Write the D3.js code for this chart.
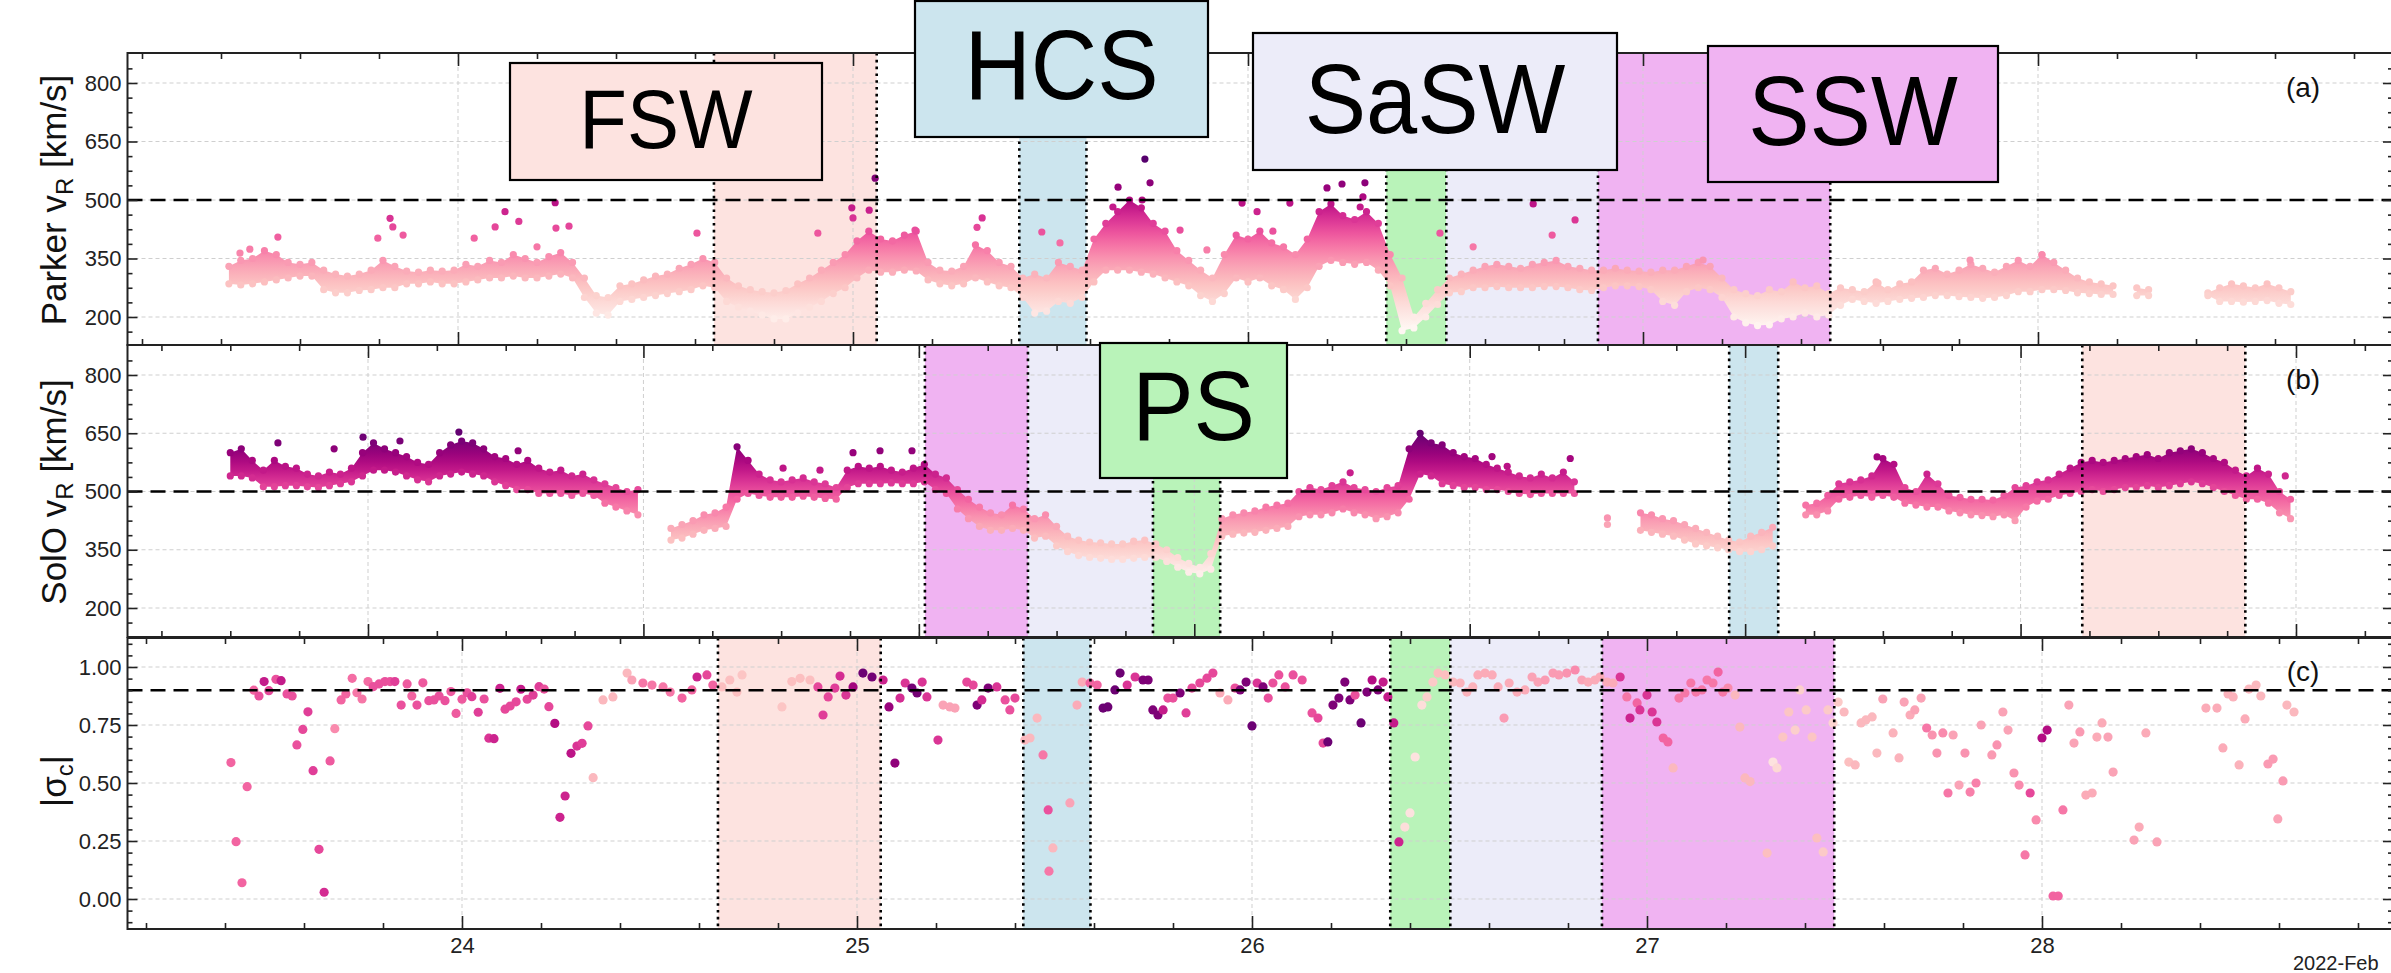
<!DOCTYPE html>
<html><head><meta charset="utf-8">
<script src="https://cdn.jsdelivr.net/npm/d3@7"></script>
<style>
html,body{margin:0;padding:0;background:#fff;}
svg{display:block;font-family:"Liberation Sans",Arial,Helvetica,sans-serif;}
</style>
</head><body>
<svg id="chart" width="2391" height="973"></svg>
<script>
// ---------------- DATA ----------------
// Parker Solar Probe radial speed: binned envelope (upper/lower edge of the point cloud), km/s
const parkerT0 = 23.42, parkerDt = 0.03;   // day of Feb 2022, bin cadence (days)
const parkerHi = [
330,345,350,370,360,340,335,340,320,310,
305,310,320,345,330,318,315,320,318,320,
335,330,345,340,360,350,340,355,365,340,
300,255,250,280,285,295,305,310,325,335,
350,340,300,280,270,265,262,268,285,300,
320,340,360,395,420,400,395,410,420,340,
320,318,330,385,370,340,330,300,310,300,
340,330,320,400,440,470,500,480,440,420,
370,345,320,300,360,410,400,420,390,380,
360,400,470,490,460,450,470,440,360,300,
200,235,270,300,310,320,330,335,330,325,
335,340,345,330,325,320,320,325,320,318,
315,320,320,330,340,330,300,270,260,255,
270,265,290,275,280,260,275,270,265,290,
270,285,290,320,325,310,320,335,325,315,
330,345,330,360,340,320,300,290,285,280,
null,275,270,null,null,null,null,262,275,285,
280,275,285,275,265];
const parkerLo = [
285,282,285,290,295,300,305,305,270,262,
262,268,270,275,275,285,285,290,285,285,
290,295,300,300,305,300,300,305,310,300,
250,210,205,240,245,250,255,260,265,270,
280,275,240,225,215,205,195,195,210,225,
240,260,275,300,320,315,315,320,318,295,
285,280,285,300,290,280,275,250,210,215,
240,235,250,290,320,320,320,315,310,300,
290,280,255,240,260,300,290,300,280,270,
245,275,330,345,340,335,340,320,280,165,
172,200,232,262,265,275,275,278,275,275,
275,278,278,275,270,268,275,280,280,278,
270,240,230,265,275,270,250,200,185,178,
180,195,200,210,200,205,230,245,240,235,
240,245,248,250,255,255,252,250,248,250,
255,265,265,270,270,268,262,260,258,258,
null,255,255,null,null,null,null,255,240,240,
238,240,242,235,232];
// isolated Parker points above the cloud (day, km/s)
const parkerOutDay = [23.448,23.473,23.544,23.797,23.828,23.835,23.861,24.041,24.094,24.119,24.154,24.200,24.246,24.248,24.281,
  24.605,24.911,24.997,25.000,25.041,25.056,25.157,25.314,25.327,25.478,25.524,25.658,25.671,25.732,25.739,25.752,
  25.828,25.896,25.985,26.023,26.063,26.106,26.200,26.238,26.284,26.291,26.296,26.486,26.570,26.722,26.770,26.828,
  27.152,27.595,27.828,28.010];
const parkerOutV = [364,374,405,402,453,431,410,402,431,470,445,380,493,428,433,
  415,415,480,454,474,556,423,430,454,418,390,482,533,500,605,544,
  423,372,492,470,420,492,531,541,482,508,544,415,380,490,410,449,
  346,287,346,359];

// Solar Orbiter radial speed: binned envelope on its own time axis (major tick = 1 unit)
const soloS0 = 0.5, soloDs = 0.04;
const soloHi = [
600,610,580,555,580,565,560,545,540,550,
545,560,600,625,610,600,590,575,570,600,
620,630,625,610,590,585,570,580,560,550,
555,540,545,530,520,510,500,505,null,null,
405,415,425,440,445,460,615,580,545,530,
525,530,535,525,520,510,555,565,560,565,
555,550,560,570,545,535,505,480,460,445,
440,465,455,430,440,410,385,375,370,368,
365,365,372,375,365,350,330,315,305,340,
430,440,445,450,460,465,470,500,510,505,
515,525,510,505,500,510,515,610,650,625,
620,600,590,585,570,560,550,540,535,545,
535,550,525,null,null,432,null,null,445,440,
430,425,415,405,395,385,375,370,385,395,
408,null,null,465,470,490,520,525,530,540,
585,570,510,500,545,520,490,485,480,480,
478,490,510,515,525,530,545,560,575,580,
575,580,585,590,595,585,600,605,610,600,
585,575,555,540,560,545,500,480];
const soloLo = [
540,540,535,512,512,515,515,512,510,515,
520,525,540,555,555,550,540,530,525,540,
545,550,545,540,525,515,505,505,495,495,
495,490,495,490,470,460,450,440,null,null,
375,380,390,400,405,410,480,495,490,485,
485,485,488,485,482,480,510,520,520,520,
522,520,520,525,505,495,455,430,410,400,
400,405,400,380,385,360,345,335,330,328,
325,325,328,330,330,320,305,292,288,300,
385,390,393,395,400,405,410,435,440,440,
445,455,445,440,430,435,445,480,545,540,
520,515,510,510,505,505,500,495,492,495,
495,495,495,null,null,415,null,null,400,395,
390,385,375,365,360,355,350,345,345,350,
360,null,null,440,440,450,480,485,490,485,
490,485,470,465,460,460,450,445,440,438,
435,440,425,460,475,480,490,495,500,505,
500,505,510,510,515,510,515,520,525,520,
510,500,490,480,480,470,445,430];
const soloOutS = [0.673,0.877,0.982,1.116,1.330,1.545,2.507,2.641,2.761,2.859,2.975,4.566,5.081,5.136,5.365,6.479,7.961];
const soloOutV = [625,610,640,630,653,605,560,555,600,605,605,548,590,565,585,589,540];

// |sigma_c| samples: [day, |sigma_c|, colour speed km/s]
const sigmaSamples = [
[23.415,0.588,400],[23.428,0.247,400],[23.443,0.070,400],[23.456,0.484,400],[23.473,0.900,400],
[23.486,0.875,420],[23.499,0.937,480],[23.511,0.898,430],[23.529,0.947,420],[23.542,0.941,480],
[23.557,0.884,420],[23.570,0.875,420],[23.582,0.664,420],[23.597,0.731,430],[23.610,0.807,440],
[23.623,0.553,440],[23.638,0.214,430],[23.651,0.029,460],[23.666,0.595,410],[23.678,0.734,360],
[23.694,0.858,400],[23.706,0.884,400],[23.722,0.951,390],[23.734,0.889,380],[23.747,0.862,380],
[23.762,0.937,390],[23.775,0.915,420],[23.790,0.927,420],[23.805,0.937,420],[23.818,0.937,420],
[23.830,0.937,440],[23.846,0.836,420],[23.861,0.927,410],[23.873,0.875,400],[23.886,0.836,420],
[23.901,0.932,410],[23.916,0.855,420],[23.929,0.858,420],[23.942,0.875,420],[23.957,0.855,420],
[23.972,0.894,410],[23.985,0.800,410],[24.000,0.861,410],[24.013,0.889,420],[24.025,0.872,440],
[24.041,0.805,440],[24.056,0.862,420],[24.068,0.693,450],[24.081,0.691,470],[24.096,0.908,470],
[24.109,0.818,430],[24.122,0.832,430],[24.137,0.850,430],[24.149,0.904,480],[24.165,0.861,430],
[24.180,0.879,440],[24.195,0.915,440],[24.208,0.905,420],[24.220,0.829,430],[24.235,0.757,500],
[24.248,0.352,470],[24.261,0.444,470],[24.276,0.628,490],[24.291,0.659,450],[24.304,0.671,440],
[24.319,0.746,430],[24.332,0.523,300],
[24.357,0.858,300],[24.382,0.871,300],[24.418,0.974,300],[24.430,0.944,330],[24.458,0.931,380],
[24.481,0.922,380],[24.509,0.914,380],[24.527,0.892,380],[24.557,0.866,400],[24.582,0.901,400],
[24.595,0.957,470],[24.620,0.966,430],[24.635,0.922,400],[24.658,0.914,290],[24.678,0.944,290],
[24.696,0.892,290],[24.709,0.966,280],[24.810,0.828,280],[24.835,0.937,290],[24.856,0.951,290],
[24.881,0.944,290],[24.901,0.914,430],[24.914,0.793,440],[24.927,0.871,430],[24.944,0.909,440],
[24.957,0.961,460],[24.972,0.879,450],[24.990,0.914,520],[25.015,0.974,580],[25.038,0.957,570],
[25.066,0.944,470],[25.081,0.828,530],[25.096,0.586,540],[25.109,0.866,460],[25.122,0.931,450],
[25.139,0.909,570],[25.152,0.888,570],[25.165,0.935,450],[25.177,0.871,450],[25.205,0.685,450],
[25.218,0.836,330],[25.235,0.828,330],[25.248,0.823,330],[25.278,0.935,430],[25.294,0.922,430],
[25.304,0.836,560],[25.316,0.858,460],[25.332,0.909,560],[25.354,0.914,450],[25.375,0.858,420],
[25.387,0.815,420],[25.400,0.866,430],[25.425,0.685,300],[25.438,0.694,300],[25.456,0.780,300],
[25.471,0.621,380],[25.484,0.384,420],[25.486,0.120,380],[25.496,0.220,300],[25.539,0.414,330],
[25.557,0.836,320],[25.570,0.935,320],[25.590,0.931,400],[25.608,0.922,400],[25.623,0.823,580],
[25.635,0.828,580],[25.653,0.901,580],
[25.666,0.974,580],[25.684,0.922,450],[25.704,0.957,450],[25.724,0.944,560],[25.737,0.944,560],
[25.749,0.815,560],[25.762,0.793,560],[25.775,0.815,480],[25.787,0.866,420],[25.800,0.866,420],
[25.818,0.888,560],[25.833,0.802,440],[25.848,0.909,430],[25.868,0.931,430],[25.886,0.952,430],
[25.901,0.974,430],[25.919,0.888,320],[25.939,0.858,320],[25.957,0.909,420],[25.970,0.901,560],
[25.985,0.935,560],[26.000,0.746,580],[26.013,0.931,450],[26.028,0.914,560],[26.041,0.866,420],
[26.053,0.931,420],[26.068,0.966,420],[26.084,0.914,420],[26.104,0.966,420],[26.127,0.944,420],
[26.152,0.802,420],[26.167,0.780,430],[26.180,0.672,430],[26.192,0.677,580],[26.205,0.836,560],
[26.220,0.866,560],[26.235,0.935,560],[26.248,0.858,560],[26.261,0.879,420],[26.276,0.759,580],
[26.291,0.892,560],[26.304,0.944,500],[26.319,0.901,560],[26.332,0.935,480],[26.344,0.871,480],
[26.359,0.759,480],[26.372,0.246,470],[26.387,0.310,230],[26.400,0.371,220],[26.413,0.612,220],
[26.430,0.836,230],[26.443,0.871,260],[26.458,0.935,270],[26.471,0.974,290],[26.489,0.966,290],
[26.509,0.935,300],[26.527,0.931,310],[26.544,0.892,310],[26.559,0.914,310],[26.572,0.966,320],
[26.590,0.974,320],[26.608,0.966,320],[26.623,0.914,320],[26.638,0.780,340],[26.651,0.931,320],
[26.671,0.892,320],[26.691,0.901,320],[26.709,0.957,330],[26.724,0.935,330],[26.742,0.944,340],
[26.762,0.974,340],[26.777,0.966,340],[26.797,0.974,350],[26.818,0.987,360],[26.835,0.944,330],
[26.851,0.935,320],[26.868,0.944,320],[26.881,0.957,320],[26.899,0.935,320],[26.914,0.931,320],
[26.932,0.957,450],[26.949,0.871,380],[26.957,0.780,470],[26.975,0.845,400],
[26.982,0.815,450],[27.000,0.879,450],[27.013,0.806,450],[27.025,0.763,450],[27.041,0.694,400],
[27.053,0.677,400],[27.066,0.565,300],[27.081,0.866,380],[27.096,0.888,380],[27.111,0.931,380],
[27.124,0.892,380],[27.139,0.901,380],[27.152,0.944,380],[27.167,0.931,380],[27.180,0.978,400],
[27.192,0.892,380],[27.205,0.909,360],[27.223,0.879,300],[27.235,0.741,300],[27.248,0.522,300],
[27.261,0.506,300],[27.304,0.198,290],[27.319,0.590,220],[27.329,0.565,240],[27.344,0.698,280],
[27.359,0.806,280],[27.375,0.728,260],[27.387,0.901,260],[27.403,0.815,270],[27.418,0.698,280],
[27.430,0.263,290],[27.446,0.203,270],[27.458,0.815,270],[27.471,0.759,250],[27.484,0.849,270],
[27.499,0.806,300],[27.511,0.590,290],[27.527,0.578,300],[27.542,0.759,300],[27.554,0.772,300],
[27.570,0.785,300],[27.582,0.629,300],[27.597,0.862,330],[27.623,0.716,310],[27.638,0.608,310],
[27.651,0.849,330],[27.666,0.793,320],[27.678,0.815,330],[27.694,0.866,330],[27.708,0.737,380],
[27.722,0.707,350],[27.734,0.629,350],[27.749,0.716,360],[27.762,0.457,380],[27.775,0.707,330],
[27.790,0.491,330],[27.805,0.629,350],[27.818,0.461,370],[27.833,0.500,370],[27.846,0.750,330],
[27.873,0.621,340],[27.886,0.664,350],[27.901,0.806,330],[27.914,0.728,330],[27.929,0.543,350],
[27.942,0.491,360],[27.957,0.190,380],[27.970,0.457,430],[27.985,0.341,360],[28.000,0.694,500],
[28.013,0.728,500],[28.028,0.013,400],[28.041,0.013,400],[28.053,0.384,380],[28.068,0.836,330],
[28.081,0.672,330],[28.096,0.720,340],[28.111,0.448,320],[28.127,0.457,320],[28.139,0.698,320],
[28.152,0.759,320],[28.167,0.698,330],[28.180,0.547,330],[28.233,0.254,330],[28.246,0.310,320],
[28.263,0.716,320],[28.291,0.246,330],
[28.415,0.823,320],[28.443,0.823,320],[28.458,0.651,320],[28.471,0.884,310],[28.484,0.871,310],
[28.499,0.578,310],[28.514,0.776,320],[28.524,0.905,300],[28.542,0.922,300],[28.554,0.875,300],
[28.572,0.582,340],[28.585,0.603,340],[28.597,0.345,330],[28.610,0.509,340],[28.620,0.836,300],
[28.638,0.806,300]];

// stream-type intervals
const regionNames = ["FSW","HCS","PS","SaSW","SSW"];
const regionsParkerDays = [[24.648,25.060],[25.421,25.591],[26.350,26.502],[26.502,26.886],[26.886,27.474]];
const regionsSolo = [[7.224,7.816],[5.942,6.120],[3.850,4.094],[3.396,3.850],[3.022,3.396]];

// tick values
const dayTicks = [24,25,26,27,28];
const speedTicks = [200,350,500,650,800];
const sigmaTicks = [0,0.25,0.5,0.75,1.0];
const soloMajorTicks = [1,2,3,4,5,6,7,8];
const speedThreshold = 500, sigmaThreshold = 0.9;

// ---------------- LAYOUT / STYLE ----------------
const regionFill = {FSW:"#fde3e0", HCS:"#cce5ee", PS:"#b9f3b9", SaSW:"#ececf9", SSW:"#f0b3f2"};
const L = 127.5, R = 2393;
const P = {a:{top:53,bot:345}, b:{top:345,bot:637}, c:{top:638,bot:929}};
const svg = d3.select("#chart");
const defs = svg.append("defs");

const xA = d3.scaleLinear().domain([24,28]).range([458,2038]);
const xC = d3.scaleLinear().domain([24,28]).range([462,2042]);
const xB = d3.scaleLinear().domain([1,8]).range([368,2296]);
const yA = d3.scaleLinear().domain([200,800]).range([317,83]);
const yB = d3.scaleLinear().domain([200,800]).range([608,375]);
const yC = d3.scaleLinear().domain([0,1]).range([899,667]);

const cl = t => Math.max(0, Math.min(1, t));
const colA = v => d3.interpolateRdPu(cl((v-170)/450));
const colB = v => d3.interpolateRdPu(cl((v-270)/410));

function clipFor(id, p){
  defs.append("clipPath").attr("id", id).append("rect")
    .attr("x", L).attr("y", p.top).attr("width", R-L).attr("height", p.bot-p.top);
}
clipFor("clipA", P.a); clipFor("clipB", P.b); clipFor("clipC", P.c);

function gradient(id, y, vmin, vmax){
  const lg = defs.append("linearGradient").attr("id", id).attr("gradientUnits","userSpaceOnUse")
    .attr("x1",0).attr("x2",0).attr("y1", y(vmin)).attr("y2", y(vmax));
  d3.range(0, 1.0001, 0.05).forEach(t => lg.append("stop").attr("offset", t).attr("stop-color", d3.interpolateRdPu(t)));
}
gradient("gradA", yA, 170, 620);
gradient("gradB", yB, 270, 680);

const gA = svg.append("g").attr("clip-path","url(#clipA)");
const gB = svg.append("g").attr("clip-path","url(#clipB)");
const gC = svg.append("g").attr("clip-path","url(#clipC)");

// shaded intervals
function shade(g, x, p, intervals){
  g.append("g").selectAll("rect").data(intervals.map((iv,i)=>({iv, name:regionNames[i]}))).join("rect")
    .attr("x", d => x(d.iv[0])).attr("width", d => x(d.iv[1]) - x(d.iv[0]))
    .attr("y", p.top).attr("height", p.bot - p.top)
    .attr("fill", d => regionFill[d.name]);
}
shade(gA, xA, P.a, regionsParkerDays);
shade(gB, xB, P.b, regionsSolo);
shade(gC, xC, P.c, regionsParkerDays);

// grids
function grid(g, x, xt, y, yt, p){
  const gg = g.append("g").attr("stroke","#cfcfcf").attr("stroke-width",1).attr("stroke-dasharray","4,3");
  gg.selectAll(".gx").data(xt).join("line").attr("x1",d=>x(d)).attr("x2",d=>x(d)).attr("y1",p.top).attr("y2",p.bot);
  gg.selectAll(".gy").data(yt).join("line").attr("x1",L).attr("x2",R).attr("y1",d=>y(d)).attr("y2",d=>y(d));
}
grid(gA, xA, dayTicks, yA, speedTicks, P.a);
grid(gB, xB, soloMajorTicks, yB, speedTicks, P.b);
grid(gC, xC, dayTicks, yC, sigmaTicks, P.c);

// bands
function band(g, x, y, t0, dt, hi, lo, gradId, col){
  const bins = hi.map((h,i)=>({t: t0 + dt*i, hi: h, lo: lo[i]}));
  const area = d3.area().defined(d => d.hi != null).x(d => x(d.t)).y0(d => y(d.lo)).y1(d => y(d.hi));
  g.append("path").datum(bins).attr("d", area).attr("fill", `url(#${gradId})`);
  const pts = bins.filter(d => d.hi != null).flatMap(d => [{t:d.t, v:d.hi}, {t:d.t, v:d.lo}]);
  g.append("g").selectAll("circle").data(pts).join("circle")
    .attr("cx", d => x(d.t)).attr("cy", d => y(d.v)).attr("r", 3.6).attr("fill", d => col(d.v));
}
band(gA, xA, yA, parkerT0, parkerDt, parkerHi, parkerLo, "gradA", colA);
band(gB, xB, yB, soloS0, soloDs, soloHi, soloLo, "gradB", colB);

gA.append("g").selectAll("circle").data(parkerOutDay.map((t,i)=>({t, v:parkerOutV[i]}))).join("circle")
  .attr("cx", d => xA(d.t)).attr("cy", d => yA(d.v)).attr("r", 3.6).attr("fill", d => colA(d.v));
gB.append("g").selectAll("circle").data(soloOutS.map((s,i)=>({s, v:soloOutV[i]}))).join("circle")
  .attr("cx", d => xB(d.s)).attr("cy", d => yB(d.v)).attr("r", 3.6).attr("fill", d => colB(d.v));

gC.append("g").selectAll("circle").data(sigmaSamples).join("circle")
  .attr("cx", d => xC(d[0])).attr("cy", d => yC(d[1])).attr("r", 4.6).attr("fill", d => colA(d[2]));

// thresholds
function hline(g, y, v){
  g.append("line").attr("x1",L).attr("x2",R).attr("y1",y(v)).attr("y2",y(v))
    .attr("stroke","#000").attr("stroke-width",2.6).attr("stroke-dasharray","15,8");
}
hline(gA, yA, speedThreshold); hline(gB, yB, speedThreshold); hline(gC, yC, sigmaThreshold);

// dotted interval edges
function edges(g, x, p, intervals){
  const xs = Array.from(new Set(intervals.flat()));
  g.append("g").selectAll("line").data(xs).join("line")
    .attr("x1", d => x(d)).attr("x2", d => x(d)).attr("y1", p.top).attr("y2", p.bot)
    .attr("stroke","#000").attr("stroke-width",2.6).attr("stroke-dasharray","2.6,4.2");
}
edges(gA, xA, P.a, regionsParkerDays);
edges(gB, xB, P.b, regionsSolo);
edges(gC, xC, P.c, regionsParkerDays);

// axes (inward ticks on all sides)
const axG = svg.append("g");
function ticksAxis(axisFn, scale, vals, size, fmt, tx, ty, pad){
  const a = axisFn(scale).tickValues(vals).tickSizeInner(-size).tickSizeOuter(0).tickPadding(pad||6)
    .tickFormat(fmt || (() => ""));
  const g = axG.append("g").attr("transform", `translate(${tx},${ty})`).call(a);
  g.select(".domain").remove();
  g.selectAll(".tick line").attr("stroke","#222").attr("stroke-width",1.6);
  g.selectAll("text").attr("fill","#222").attr("font-size",22).attr("font-family",'"Liberation Sans",Arial,sans-serif');
  return g;
}
function inRange(vals, scale, lo, hi){ return vals.filter(v => { const p = scale(v); return p > lo+1 && p < hi-1; }); }
function panelAxes(p, x, xMaj, xMin, y, yMaj, yMin, yFmt, xFmt){
  ticksAxis(d3.axisTop, x, xMaj, 13, null, 0, p.top);
  ticksAxis(d3.axisTop, x, xMin, 6, null, 0, p.top);
  ticksAxis(d3.axisBottom, x, xMaj, 13, xFmt, 0, p.bot, 8);
  ticksAxis(d3.axisBottom, x, xMin, 6, null, 0, p.bot);
  ticksAxis(d3.axisLeft, y, yMaj, 10, yFmt, L, 0, 6);
  ticksAxis(d3.axisLeft, y, yMin, 5, null, L, 0);
  ticksAxis(d3.axisRight, y, yMaj, 10, null, R, 0);
  ticksAxis(d3.axisRight, y, yMin, 5, null, R, 0);
  axG.append("rect").attr("x",L).attr("y",p.top).attr("width",R-L).attr("height",p.bot-p.top)
    .attr("fill","none").attr("stroke","#222").attr("stroke-width",2);
}
const dayMinor = inRange(d3.range(23, 29.01, 0.2).map(v=>+v.toFixed(2)).filter(v => Math.abs(v-Math.round(v))>1e-6), xA, L, R);
const soloMinor = inRange(d3.range(0, 9.01, 0.25).filter(v => Math.abs(v-Math.round(v))>1e-6), xB, L, R);
const speedMinor = d3.range(125, 900, 37.5).filter(v => !speedTicks.includes(v));
const sigmaMinor = d3.range(-0.15, 1.2, 0.05).map(v=>+v.toFixed(2)).filter(v => !sigmaTicks.includes(v));

panelAxes(P.a, xA, dayTicks, dayMinor, yA, speedTicks, inRange(speedMinor, yA, P.a.top, P.a.bot), d3.format("d"), null);
panelAxes(P.b, xB, soloMajorTicks, soloMinor, yB, speedTicks, inRange(speedMinor, yB, P.b.top, P.b.bot), d3.format("d"), null);
panelAxes(P.c, xC, dayTicks, inRange(dayMinor, xC, L, R), yC, sigmaTicks, inRange(sigmaMinor, yC, P.c.top, P.c.bot), d3.format(".2f"), d3.format("d"));

// axis titles
function yTitle(cy, parts){
  const t = svg.append("text").attr("transform", `translate(66,${cy}) rotate(-90)`)
    .attr("text-anchor","middle").attr("font-size",35).attr("fill","#111");
  parts.forEach(pt => {
    const s = t.append("tspan").text(pt.text);
    if (pt.sub) s.attr("font-size",24).attr("dy",7);
    if (pt.back) s.attr("dy",-7);
  });
}
yTitle(200, [{text:"Parker v"},{text:"R", sub:true},{text:" [km/s]", back:true}]);
yTitle(492, [{text:"SolO v"},{text:"R", sub:true},{text:" [km/s]", back:true}]);
yTitle(781, [{text:"|σ"},{text:"c", sub:true},{text:"|", back:true}]);

// panel letters
[["(a)",97],["(b)",389],["(c)",681]].forEach(([s,y]) =>
  svg.append("text").attr("x",2303).attr("y",y).attr("text-anchor","middle").attr("font-size",28).attr("fill","#111").text(s));

svg.append("text").attr("x",2293).attr("y",970).attr("font-size",20).attr("fill","#222").text("2022-Feb");

// label boxes
const boxes = [
  {name:"FSW",  x:510,  y:63,  w:312, h:117, fs:78, base:148},
  {name:"HCS",  x:915,  y:1,   w:293, h:136, fs:92, base:99},
  {name:"SaSW", x:1253, y:33,  w:364, h:137, fs:92, base:133},
  {name:"SSW",  x:1708, y:46,  w:290, h:136, fs:92, base:145},
  {name:"PS",   x:1100, y:343, w:187, h:135, fs:92, base:440}
];
const bg = svg.append("g");
boxes.forEach(b => {
  bg.append("rect").attr("x",b.x).attr("y",b.y).attr("width",b.w).attr("height",b.h)
    .attr("fill",regionFill[b.name]).attr("stroke","#000").attr("stroke-width",2.2);
  bg.append("text").attr("transform",`translate(${b.x+b.w/2},${b.base}) scale(1,1.07)`)
    .attr("text-anchor","middle").attr("font-size",b.fs).attr("fill","#000").text(b.name);
});
</script>
</body></html>
